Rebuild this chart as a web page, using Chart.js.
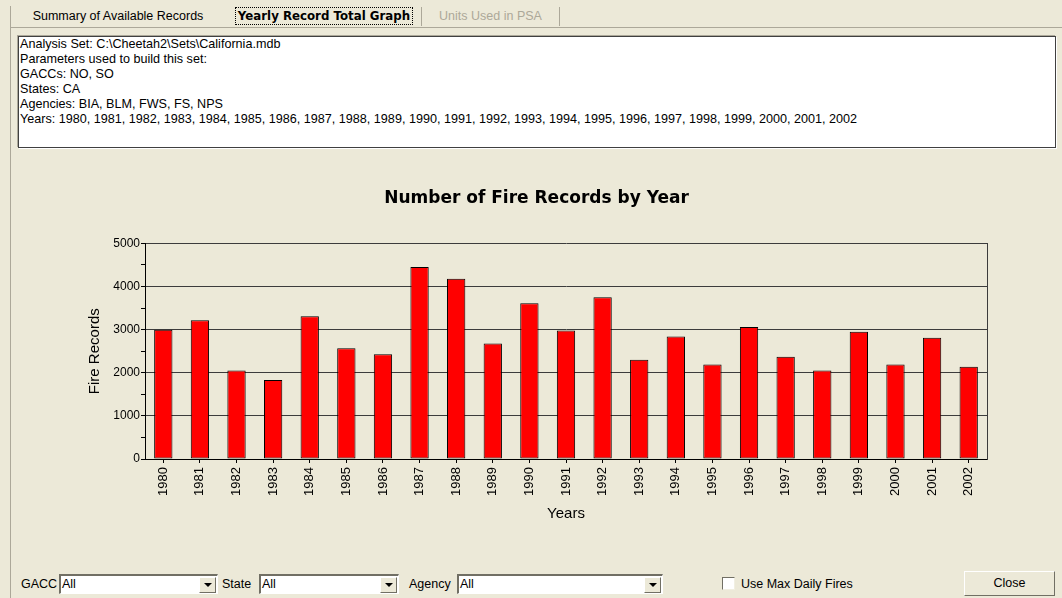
<!DOCTYPE html>
<html>
<head>
<meta charset="utf-8">
<script src="https://cdn.jsdelivr.net/npm/chart.js@4.4.1/dist/chart.umd.min.js"></script>
<style>
  html, body { margin: 0; padding: 0; }
  body {
    width: 1062px; height: 598px; overflow: hidden; position: relative;
    background: #ECE9D8; color: #000;
    font-family: 'Liberation Sans', Arial, sans-serif; font-size: 12.5px;
  }
  .abs { position: absolute; }
  .hline { border-top: 1px solid #ACA899; height: 0; }
  .vline { border-left: 1px solid #ACA899; width: 0; }
  .tab { top: 6px; height: 20px; line-height: 20px; text-align: center; white-space: nowrap; }
  .tab.active span {
    font-family: 'DejaVu Sans', sans-serif; font-weight: bold; font-size: 11.8px;
    border: 1px dotted #000; padding: 1px 2px;
  }
  .tab.disabled { color: #ACA899; }
  .info {
    left: 18px; top: 36px; width: 1035px; height: 110px;
    background: #fff; border: 1px solid #404040;
    box-shadow: -1px -1px 0 #ACA899, 1px 1px 0 #fff;
    font-size: 12.6px; line-height: 15px; padding: 0 0 0 1px; white-space: pre; overflow: hidden;
  }
  .lbl { top: 576px; height: 16px; line-height: 16px; white-space: nowrap; }
  .combo {
    top: 574px; height: 17px; background: #fff;
    border-top: 2px solid #716F64; border-left: 2px solid #716F64;
    border-bottom: 1px solid #fff; border-right: 1px solid #fff;
  }
  .combo .txt { position: absolute; left: 1px; top: 0; line-height: 17px; }
  .combo .btn {
    position: absolute; right: 1px; top: 1px; width: 15px; height: 14px;
    background: #ECE9D8;
    border-top: 1px solid #fff; border-left: 1px solid #fff;
    border-right: 1px solid #716F64; border-bottom: 1px solid #716F64;
  }
  .combo .btn::after {
    content: ''; position: absolute; left: 4px; top: 5px; width: 0; height: 0;
    border-left: 4px solid transparent; border-right: 4px solid transparent;
    border-top: 4px solid #000;
  }
  .check {
    left: 722px; top: 577px; width: 11px; height: 11px; background: #fff;
    border-top: 1px solid #716F64; border-left: 1px solid #716F64;
    border-right: 1px solid #F1EFE2; border-bottom: 1px solid #F1EFE2;
  }
  .close {
    left: 964px; top: 571px; width: 89px; height: 23px; line-height: 23px;
    text-align: center; background: #ECE9D8;
    border-top: 1px solid #fff; border-left: 1px solid #fff;
    border-right: 1px solid #716F64; border-bottom: 1px solid #716F64;
  }
  #chartBox { left: 0; top: 150px; width: 1062px; height: 390px; }
</style>
</head>
<body>
  <!-- tab strip -->
  <div class="abs vline" style="left:10px;top:6px;height:592px;"></div>
  <div class="abs hline" style="left:10px;top:27px;width:1052px;"></div>
  <div class="abs tab" style="left:10px;width:216px;"><span>Summary of Available Records</span></div>
  <div class="abs tab active" style="left:226px;width:196px;"><span>Yearly Record Total Graph</span></div>
  <div class="abs vline" style="left:421px;top:7px;height:19px;"></div>
  <div class="abs tab disabled" style="left:422px;width:137px;"><span>Units Used in PSA</span></div>
  <div class="abs vline" style="left:559px;top:7px;height:19px;"></div>

  <!-- analysis set description -->
  <div class="abs info">Analysis Set: C:\Cheetah2\Sets\California.mdb
Parameters used to build this set:
GACCs: NO, SO
States: CA
Agencies: BIA, BLM, FWS, FS, NPS
Years: 1980, 1981, 1982, 1983, 1984, 1985, 1986, 1987, 1988, 1989, 1990, 1991, 1992, 1993, 1994, 1995, 1996, 1997, 1998, 1999, 2000, 2001, 2002</div>

  <!-- chart -->
  <div class="abs" id="chartBox"><canvas id="yearChart" width="1062" height="390"></canvas></div>

  <!-- filter controls -->
  <div class="abs lbl" style="left:21px;">GACC</div>
  <div class="abs combo" style="left:59px;width:156px;"><span class="txt">All</span><span class="btn"></span></div>
  <div class="abs lbl" style="left:222px;">State</div>
  <div class="abs combo" style="left:259px;width:137px;"><span class="txt">All</span><span class="btn"></span></div>
  <div class="abs lbl" style="left:409px;">Agency</div>
  <div class="abs combo" style="left:457px;width:203px;"><span class="txt">All</span><span class="btn"></span></div>
  <div class="abs check"></div>
  <div class="abs lbl" style="left:741px;">Use Max Daily Fires</div>
  <div class="abs close">Close</div>

<script>
// Fire records per year
const years = ['1980', '1981', '1982', '1983', '1984', '1985', '1986', '1987', '1988', '1989', '1990', '1991',
               '1992', '1993', '1994', '1995', '1996', '1997', '1998', '1999', '2000', '2001', '2002'];
const fireRecords = [3000, 3220, 2050, 1830, 3310, 2570, 2430, 4450, 4180, 2680, 3610, 2980,
                     3750, 2300, 2840, 2190, 3060, 2370, 2050, 2950, 2190, 2810, 2140];
const yAxisMax = 5000;
const yMajorStep = 1000;
const yMinorStep = 500;

const uiFont = 'Liberation Sans';

new Chart(document.getElementById('yearChart'), {
  type: 'bar',
  data: {
    labels: years,
    datasets: [{
      data: fireRecords,
      backgroundColor: '#FF0000',
      borderColor: '#000',
      borderWidth: 1,
      borderSkipped: false,
      barPercentage: 0.5,
      categoryPercentage: 1.0
    }]
  },
  options: {
    responsive: false,
    animation: false,
    layout: { padding: { left: 86, right: 75, top: 0, bottom: 0 } },
    plugins: {
      legend: { display: false },
      tooltip: { enabled: false },
      title: {
        display: true,
        text: 'Number of Fire Records by Year',
        color: '#000',
        font: { family: 'DejaVu Sans', size: 17, weight: 'bold' },
        padding: { top: 38, bottom: 35 }
      }
    },
    scales: {
      x: {
        grid: {
          display: true, drawOnChartArea: false, drawTicks: true,
          tickLength: 4, color: '#000', offset: false
        },
        border: { display: true, color: '#000', width: 1 },
        ticks: {
          autoSkip: false, minRotation: 90, maxRotation: 90, padding: 4,
          color: '#000', font: { family: uiFont, size: 13 }
        },
        title: {
          display: true, text: 'Years', color: '#000',
          font: { family: uiFont, size: 15 }, padding: { top: 0, bottom: 17 }
        },
        afterFit(scale) { scale.height = 81; }
      },
      y: {
        min: 0,
        max: yAxisMax,
        ticks: {
          stepSize: yMinorStep, padding: 1, color: '#000',
          font: { family: uiFont, size: 12 },
          callback: v => (v % yMajorStep === 0 ? String(v) : '')
        },
        grid: {
          color: ctx => (ctx.tick && ctx.tick.value % yMajorStep === 0 ? '#3C3C3C' : 'rgba(0,0,0,0)'),
          tickColor: '#000',
          tickLength: 4,
          lineWidth: 1
        },
        border: { display: true, color: '#000', width: 1 },
        title: {
          display: true, text: 'Fire Records', color: '#000',
          font: { family: uiFont, size: 15 }, padding: { top: 0, bottom: 0 }
        },
        afterFit(scale) { scale.width = 59; }
      },
      yFrame: {
        position: 'right',
        min: 0,
        max: yAxisMax,
        ticks: { display: false },
        grid: { drawOnChartArea: false, drawTicks: false },
        border: { display: true, color: '#3C3C3C', width: 1 },
        afterFit(scale) { scale.width = 0; }
      }
    }
  }
});
</script>
</body>
</html>
